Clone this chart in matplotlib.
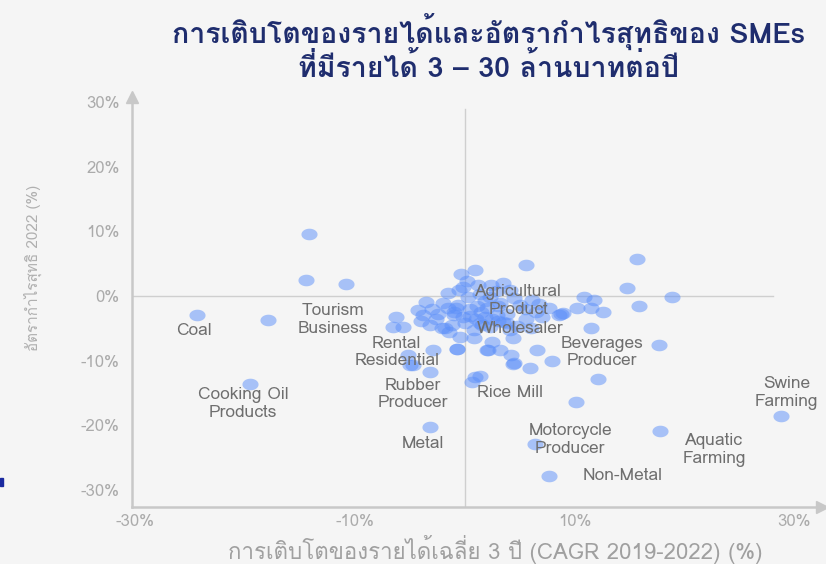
import numpy as np
import matplotlib
matplotlib.use("Agg")
import matplotlib.pyplot as plt
from matplotlib import font_manager
from matplotlib.ft2font import FT2Font

# หาฟอนต์ที่มีอักษรไทย (ถ้ามี)
thai_family = None
for f in font_manager.fontManager.ttflist:
    try:
        if ord("ก") in FT2Font(f.fname).get_charmap():
            thai_family = f.name
            break
    except Exception:
        pass
families = ([thai_family] if thai_family else []) + ["DejaVu Sans"]
plt.rcParams["font.family"] = families

# ข้อมูล: การเติบโตของรายได้ (CAGR, %) และอัตรากำไรสุทธิ (%)
growth = [-14.2, -14.5, -10.8, -24.4, -17.9, -6.3, -3.5, -4.3, -0.3, 0.9,
          -6.5, -5.6, -3.2, -5.2, -2.9, -0.75, -5.0, -3.2, 0.9, 0.7,
          -19.6, -3.2, 1.4, 4.4, 5.9, 7.9, 12.1, 10.1, 28.8, 17.8,
          6.4, 7.7, 15.7, 14.8, 18.9, 15.9, 10.9, 11.8, 10.2, 11.5,
          12.6, 11.5, 17.7, 8.9, 5.6, 3.5, 2.4, 8.6, 2.1, 4.2,
          6.6, 2.5, 4.1, 1.6, -1.8, -1.2, -2.4, -1.5, -0.6, -0.15,
          0.3, 1.4, 2.3, 1.1, 2.0, 3.2, 2.9, 3.8, 5.0, 6.1,
          6.5, 7.7, 8.8, 4.1, 1.4, 0.8, 2.3, 3.8, 5.6, 4.4,
          3.2, 2.0, 4.5, -0.75, -4.7, -3.8, -0.2, -1.4, -0.45, -2.1,
          -2.6, -1.0, 0.5, 1.8, 3.0, 4.8, 6.8, -0.5, 0.2, 1.0,
          -2.0, -1.0, 0.5, 1.5, 2.5, 3.5, -3.0, -4.0, 0.0, 1.2,
          2.8, 4.5, 5.5, 7.0, -1.5, 0.8, 6.0, -0.8, 1.8, 3.0]
margin = [9.6, 2.5, 1.9, -2.9, -3.7, -3.2, -0.9, -2.2, 3.5, 4.0,
          -4.7, -4.7, -4.5, -9.1, -8.3, -8.2, -10.7, -11.7, -12.5, -13.2,
          -13.6, -20.2, -12.4, -10.5, -11.1, -10.0, -12.8, -16.4, -18.5, -20.8,
          -22.9, -27.8, 5.7, 1.2, -0.1, -1.6, -0.1, -0.6, -1.9, -1.9,
          -2.4, -5.0, -7.5, -2.6, 4.8, 2.0, 1.7, -2.9, -8.3, -9.1,
          -8.3, -7.1, -5.3, -4.5, -5.0, -4.5, -2.7, -1.9, -1.4, 1.4,
          -0.1, 0.4, -0.1, -1.6, -1.9, -1.1, -2.9, -2.7, -1.4, -0.6,
          -2.4, -1.9, -2.7, 0.9, -4.2, -5.3, -4.7, -4.2, -3.5, -6.5,
          -8.3, -8.3, -10.4, -8.1, -10.7, -2.9, -3.2, -5.5, -6.3, -5.0,
          -3.5, -2.9, -2.0, -3.3, -3.8, -4.6, -1.2, 0.9, 2.4, -3.6,
          -1.0, -2.5, -3.0, -2.5, -3.5, -4.0, -2.0, -3.8, -4.2, 1.8,
          0.8, -0.3, -2.0, -3.2, 0.5, -6.5, -5.0, -1.8, -0.8, -1.5]

# ป้ายชื่ออุตสาหกรรม
label_text = ["Coal", "Tourism\nBusiness", "Rental\nResidential", "Rubber\nProducer",
              "Cooking Oil\nProducts", "Metal", "Agricultural\nProduct", "Wholesaler",
              "Beverages\nProducer", "Rice Mill", "Motorcycle\nProducer", "Non-Metal",
              "Aquatic\nFarming", "Swine\nFarming"]
label_x = [-24.7, -12.0, -6.2, -4.7, -20.2, -3.8, 4.9, 5.0, 12.5, 4.1, 9.6, 14.4, 22.7, 29.3]
label_y = [-5.4, -3.7, -8.7, -15.2, -16.7, -22.9, -0.8, -5.1, -8.7, -15.0, -22.3, -27.8, -23.8, -15.0]

x_ticks = [-30, -10, 10, 30]
y_ticks = [30, 20, 10, 0, -10, -20, -30]

bg = "#f5f5f5"
fig = plt.figure(figsize=(8.26, 5.64), dpi=100, facecolor=bg)
ax = fig.add_axes([0.1598, 0.1011, 0.835, 0.727], facecolor=bg)
ax.set_xlim(-30.3, 32.5)
ax.set_ylim(-32.6, 30.8)

# เส้นแกนศูนย์
ax.axhline(0, xmin=0, xmax=0.93, color="#cfcfcf", lw=1, zorder=1)
ax.axvline(0, ymin=0, ymax=0.97, color="#cfcfcf", lw=1, zorder=1)

# จุดรูปวงรี
t = np.linspace(0, 2 * np.pi, 40)
ellipse = np.c_[np.cos(t), 0.72 * np.sin(t)]
ax.scatter(growth, margin, s=135, marker=ellipse, color="#5b8ff9",
           alpha=0.5, linewidths=0, zorder=2)

for txt, lx, ly in zip(label_text, label_x, label_y):
    ax.text(lx, ly, txt, ha="center", va="center", fontsize=12.5,
            color="#6e6e6e", linespacing=1.15, zorder=3)

for s in ["top", "right"]:
    ax.spines[s].set_visible(False)
for s in ["left", "bottom"]:
    ax.spines[s].set_color("#c8c8c8")
    ax.spines[s].set_linewidth(1.8)
ax.plot([0], [1], marker="^", ms=8, color="#c8c8c8", transform=ax.transAxes, clip_on=False)
ax.plot([1], [0], marker=">", ms=8, color="#c8c8c8", transform=ax.transAxes, clip_on=False)

ax.set_xticks(x_ticks)
ax.set_xticklabels([f"{v}%" for v in x_ticks])
ax.set_yticks(y_ticks)
ax.set_yticklabels([f"{v}%" for v in y_ticks])
ax.tick_params(length=0, labelsize=12, labelcolor="#ababab", pad=9)
ax.tick_params(axis="x", pad=5)

fig.text(0.04, 0.525, "อัตรากำไรสุทธิ 2022 (%)", rotation=90, ha="center", va="center",
         fontsize=11, color="#b0b0b0")
fig.text(0.600, 0.026, "การเติบโตของรายได้เฉลี่ย 3 ปี (CAGR 2019-2022) (%)", ha="center",
         va="center", fontsize=16, color="#a0a0a0")
fig.text(0.592, 0.915, "การเติบโตของรายได้และอัตรากำไรสุทธิของ SMEs\nที่มีรายได้ 3 – 30 ล้านบาทต่อปี",
         ha="center", va="center", fontsize=20.5, fontweight="bold", color="#1f2d6e",
         linespacing=1.05)

# เครื่องหมายสีน้ำเงินเล็ก ๆ ด้านซ้าย
fig.patches.append(plt.Rectangle((0, 0.138), 0.004, 0.014, transform=fig.transFigure,
                                 color="#1a2aa0"))

fig.savefig("out.png", dpi=100, facecolor=bg)
